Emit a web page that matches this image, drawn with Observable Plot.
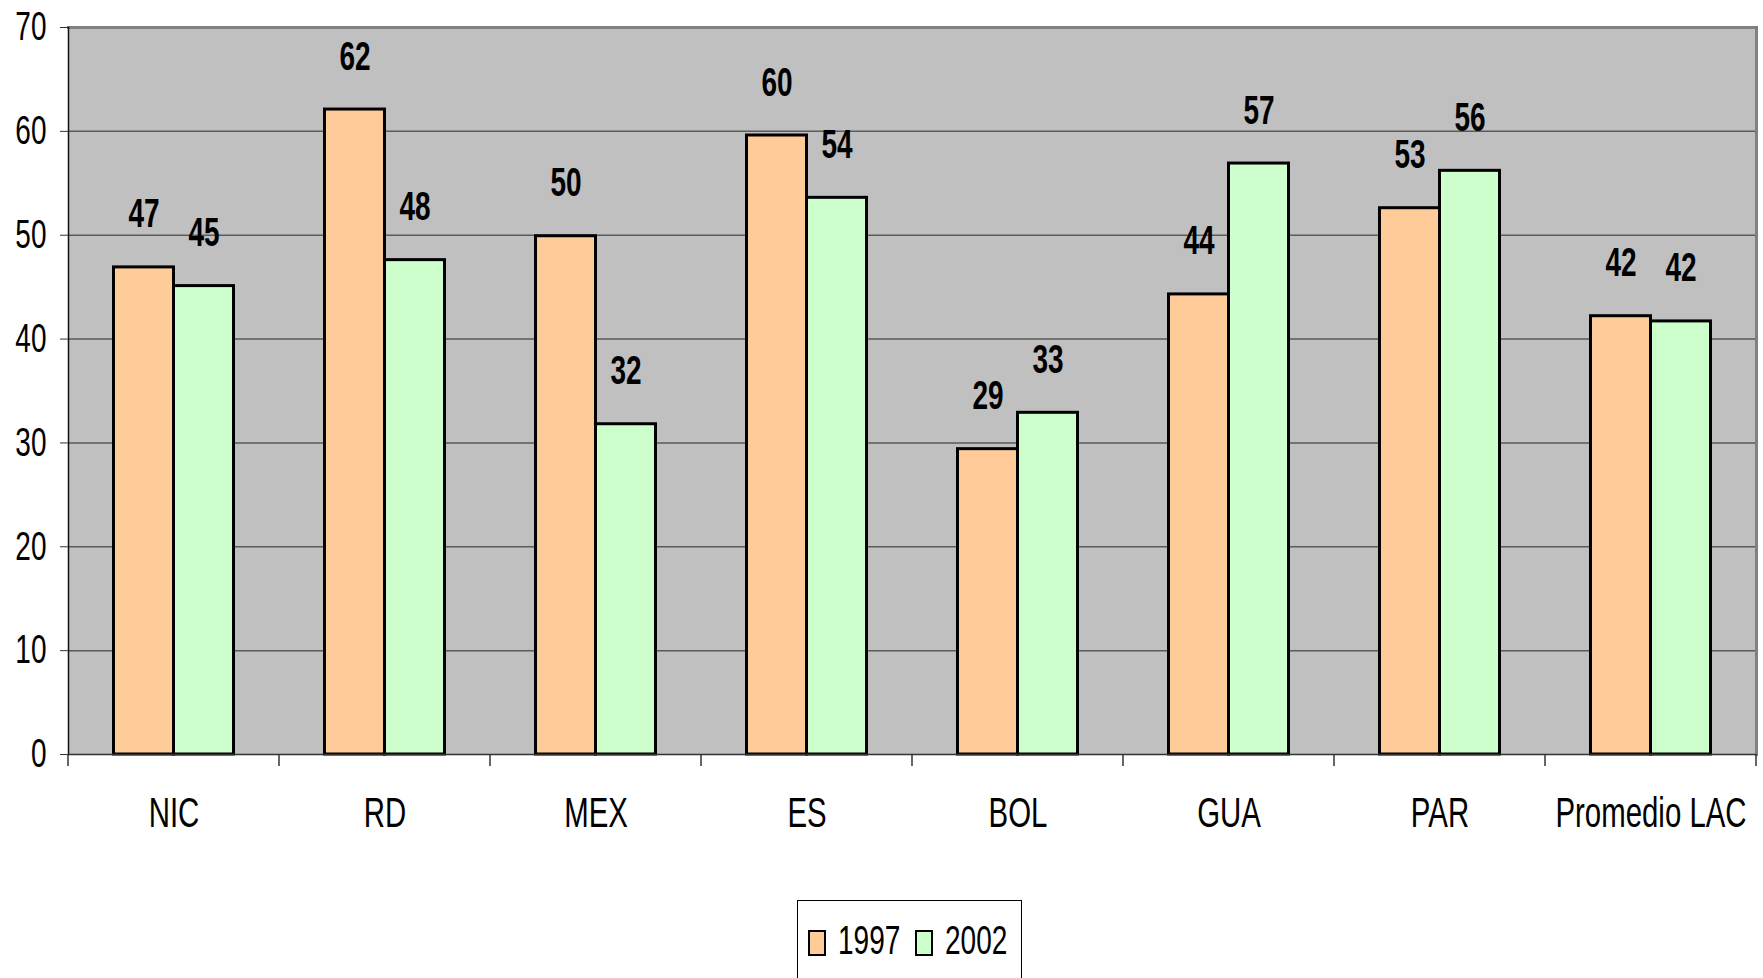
<!DOCTYPE html>
<html>
<head>
<meta charset="utf-8">
<script src="https://cdn.jsdelivr.net/npm/d3@7"></script>
<script src="https://cdn.jsdelivr.net/npm/@observablehq/plot@0.6"></script>
<style>
  body { margin: 0; background: #fff; font-family: "Liberation Sans", Arial, sans-serif; }
  #chart svg { display: block; }
  #legend {
    box-sizing: border-box; margin-left: 797px; width: 225px; height: 78px;
    border: 1.5px solid #000; border-bottom: none; display: flex; align-items: center;
    padding-left: 10px; font-size: 40px; line-height: 1; color: #000;
  }
  #legend .sw { flex: 0 0 auto; box-sizing: border-box; width: 18px; height: 26px; border: 2.5px solid #000; margin-right: 12px; margin-top: 6px; }
  #legend .lbl { flex: 0 0 auto; display: inline-block; width: 60px; margin-right: 17px; white-space: nowrap; }
  #legend .lbl span { display: inline-block; transform: scaleX(0.7); transform-origin: 0 50%; }
</style>
</head>
<body>
<div id="chart"></div>
<div id="legend"></div>
<script>
// Share by country, 1997 vs 2002
const categories = ["NIC", "RD", "MEX", "ES", "BOL", "GUA", "PAR", "Promedio LAC"];
const values1997 = [46.9, 62.1, 49.9, 59.6, 29.4, 44.3, 52.6, 42.2];
const values2002 = [45.1, 47.6, 31.8, 53.6, 32.9, 56.9, 56.2, 41.7];
const seriesNames = ["1997", "2002"];
const seriesColors = ["#FFCC99", "#CCFFCC"];
const yTicks = [0, 10, 20, 30, 40, 50, 60, 70];
const gridTicks = [10, 20, 30, 40, 50, 60];

const rows1997 = categories.map((c, i) => ({category: c, series: seriesNames[0], value: values1997[i]}));
const rows2002 = categories.map((c, i) => ({category: c, series: seriesNames[1], value: values2002[i]}));
const fmt = d3.format(".0f");
const FONT = '"Liberation Sans", Arial, sans-serif';
const NARROW = 0.7; // horizontal squeeze for a narrow face

// tick marks between the category bands, below the baseline
const bandEdges = (index, scales, values, dimensions) => {
  const x = scales.x;
  const bw = x.bandwidth();
  const edges = categories.map(c => x(c)).concat([x(categories[categories.length - 1]) + bw]);
  const y0 = dimensions.height - dimensions.marginBottom;
  const g = d3.create("svg:g");
  g.selectAll("line").data(edges).join("line")
    .attr("x1", d => d).attr("x2", d => d)
    .attr("y1", y0).attr("y2", y0 + 12)
    .attr("stroke", "#333").attr("stroke-width", 1.5);
  return g.node();
};

const barCommon = {x: "category", y: "value", stroke: "#000", strokeWidth: 3};
const labelCommon = {x: "category", y: "value", text: d => fmt(d.value), dy: -40, lineAnchor: "bottom",
  fontWeight: "bold", fontSize: 40, fill: "#000"};

const chart = Plot.plot({
  width: 1763,
  height: 900,
  marginTop: 27,
  marginBottom: 146,
  marginLeft: 68,
  marginRight: 7,
  style: {fontFamily: FONT, fontSize: "40px", color: "#000", background: "#fff", overflow: "visible"},
  x: {domain: categories, padding: 0, label: null},
  y: {domain: [0, 70], label: null},
  marks: [
    Plot.frame({fill: "#C0C0C0", stroke: null}),
    Plot.gridY(gridTicks, {stroke: "#5a5a5a", strokeOpacity: 1, strokeWidth: 1.5}),
    Plot.frame({anchor: "top", stroke: "#808080", strokeWidth: 3}),
    Plot.frame({anchor: "right", stroke: "#808080", strokeWidth: 3}),
    Plot.barY(rows1997, {...barCommon, fill: seriesColors[0], insetLeft: 45.5, insetRight: 105.5}),
    Plot.barY(rows2002, {...barCommon, fill: seriesColors[1], insetLeft: 105.5, insetRight: 45.5}),
    Plot.frame({anchor: "left", stroke: "#111", strokeWidth: 1.5}),
    Plot.ruleY([0], {stroke: "#333", strokeWidth: 1.5}),
    Plot.axisY(yTicks, {tickSize: 8, tickPadding: 14, fontSize: 40, label: null, stroke: "#333"}),
    Plot.axisX({tickSize: 0, tickPadding: 43, fontSize: 42, label: null}),
    bandEdges,
    Plot.text(rows1997, {...labelCommon, dx: -30}),
    Plot.text(rows2002, {...labelCommon, dx: 30})
  ]
});

// squeeze every text horizontally about its own anchor point
d3.select(chart).selectAll("text").each(function () {
  const x = parseFloat(this.getAttribute("x")) || 0;
  const prev = this.getAttribute("transform") || "";
  this.setAttribute("transform", `${prev} translate(${x * (1 - NARROW)},0) scale(${NARROW},1)`.trim());
});
document.getElementById("chart").appendChild(chart);

// legend below the chart
const legend = d3.select("#legend");
seriesNames.forEach((name, i) => {
  legend.append("span").attr("class", "sw").style("background", seriesColors[i]);
  legend.append("span").attr("class", "lbl").append("span").text(name);
});
</script>
</body>
</html>
